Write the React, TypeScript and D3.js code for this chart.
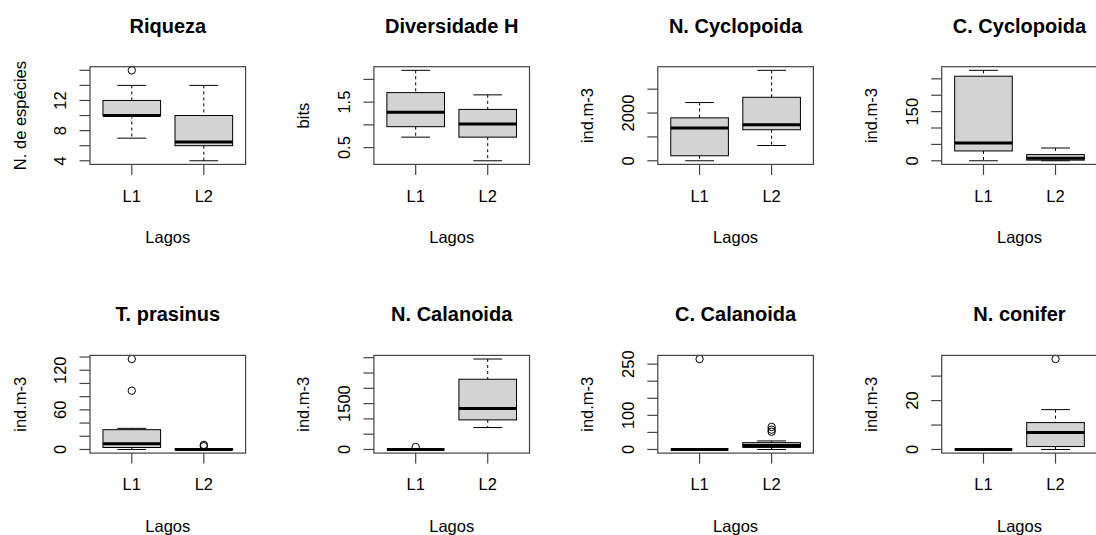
import React from "react";
import * as d3 from "d3";

// Lakes on the x axis of every panel
const lakes = ["L1", "L2"];

const panelTitles = [
  "Riqueza",
  "Diversidade H",
  "N. Cyclopoida",
  "C. Cyclopoida",
  "T. prasinus",
  "N. Calanoida",
  "C. Calanoida",
  "N. conifer",
];

const yTitles = [
  "N. de espécies",
  "bits",
  "ind.m-3",
  "ind.m-3",
  "ind.m-3",
  "ind.m-3",
  "ind.m-3",
  "ind.m-3",
];

// Box summaries per lake: [lower whisker, Q1, median, Q3, upper whisker]
const riquezaStats = [[7, 10, 10, 12, 14], [4, 6, 6.5, 10, 14]];
const riquezaOutliers = [[16], []];

const diversidadeStats = [[0.73, 0.96, 1.28, 1.71, 2.2], [0.21, 0.73, 1.02, 1.34, 1.66]];
const diversidadeOutliers = [[], []];

const nCyclopoidaStats = [[0, 210, 1370, 1800, 2440], [640, 1300, 1510, 2660, 3790]];
const nCyclopoidaOutliers = [[], []];

const cCyclopoidaStats = [[0, 30, 54, 258, 276], [0, 2, 8, 19, 39]];
const cCyclopoidaOutliers = [[], []];

const tPrasinusStats = [[0, 3, 8.6, 30, 32], [0, 0, 0, 1, 1]];
const tPrasinusOutliers = [[89, 137], [5, 7]];

const nCalanoidaStats = [[0, 0, 0, 0, 0], [717, 968, 1337, 2296, 2957]];
const nCalanoidaOutliers = [[80], []];

const cCalanoidaStats = [[0, 0, 0, 0, 0], [0, 6, 12, 20, 25]];
const cCalanoidaOutliers = [[265], [52, 58, 66]];

const nConiferStats = [[0, 0, 0, 0, 0], [0, 1.2, 6.9, 11, 16.3]];
const nConiferOutliers = [[], [37]];

// Axis ticks and the subset that carries a label
const riquezaTicks = [4, 6, 8, 10, 12, 14, 16];
const riquezaTickLabels = [4, 8, 12];
const diversidadeTicks = [0.5, 1, 1.5, 2];
const diversidadeTickLabels = [0.5, 1.5];
const nCyclopoidaTicks = [0, 1000, 2000, 3000];
const nCyclopoidaTickLabels = [0, 2000];
const cCyclopoidaTicks = [0, 50, 100, 150, 200, 250];
const cCyclopoidaTickLabels = [0, 150];
const tPrasinusTicks = [0, 20, 40, 60, 80, 100, 120, 140];
const tPrasinusTickLabels = [0, 60, 120];
const nCalanoidaTicks = [0, 500, 1000, 1500, 2000, 2500, 3000];
const nCalanoidaTickLabels = [0, 1500];
const cCalanoidaTicks = [0, 50, 100, 150, 200, 250];
const cCalanoidaTickLabels = [0, 100, 250];
const nConiferTicks = [0, 10, 20, 30];
const nConiferTickLabels = [0, 20];

const panelStats = [
  riquezaStats, diversidadeStats, nCyclopoidaStats, cCyclopoidaStats,
  tPrasinusStats, nCalanoidaStats, cCalanoidaStats, nConiferStats,
];
const panelOutliers = [
  riquezaOutliers, diversidadeOutliers, nCyclopoidaOutliers, cCyclopoidaOutliers,
  tPrasinusOutliers, nCalanoidaOutliers, cCalanoidaOutliers, nConiferOutliers,
];
const panelTicks = [
  riquezaTicks, diversidadeTicks, nCyclopoidaTicks, cCyclopoidaTicks,
  tPrasinusTicks, nCalanoidaTicks, cCalanoidaTicks, nConiferTicks,
];
const panelTickLabels = [
  riquezaTickLabels, diversidadeTickLabels, nCyclopoidaTickLabels, cCyclopoidaTickLabels,
  tPrasinusTickLabels, nCalanoidaTickLabels, cCalanoidaTickLabels, nConiferTickLabels,
];

const W = 1096;
const H = 535;
const COL_STEP = 283.9;
const ROW_STEP = 288.7;
const PLOT_LEFT = 90;
const PLOT_TOP = 66.7;
const PLOT_W = 155.6;
const PLOT_H = 97.7;
const FONT = "'Liberation Sans', Arial, Helvetica, sans-serif";
const AXIS_FS = 16.5;
const TITLE_FS = 20;

function Panel({ index }: { index: number }) {
  const col = index % 4;
  const row = Math.floor(index / 4);
  const left = PLOT_LEFT + col * COL_STEP;
  const top = PLOT_TOP + row * ROW_STEP;

  const stats = panelStats[index];
  const outliers = panelOutliers[index];
  const allValues = [
    ...stats.flatMap((s) => [s[0], s[4]]),
    ...outliers.flat(),
  ];
  const [lo, hi] = d3.extent(allValues) as [number, number];
  const pad = (hi - lo) * 0.04;

  const x = d3.scaleLinear().domain([0.42, lakes.length + 0.58]).range([0, PLOT_W]);
  const y = d3.scaleLinear().domain([lo - pad, hi + pad]).range([PLOT_H, 0]);

  const boxHalf = x(0.4) - x(0);
  const stapleHalf = x(0.2) - x(0);
  const tickLen = 10.5;

  return (
    <g transform={`translate(${left},${top})`}>
      {/* boxes */}
      {stats.map((s, i) => {
        const cx = x(i + 1);
        const [wl, q1, med, q3, wh] = s;
        return (
          <g key={i}>
            <line x1={cx} x2={cx} y1={y(wh)} y2={y(q3)} stroke="#000" strokeWidth={1} strokeDasharray="3,3" />
            <line x1={cx} x2={cx} y1={y(q1)} y2={y(wl)} stroke="#000" strokeWidth={1} strokeDasharray="3,3" />
            <line x1={cx - stapleHalf} x2={cx + stapleHalf} y1={y(wh)} y2={y(wh)} stroke="#000" strokeWidth={1} />
            <line x1={cx - stapleHalf} x2={cx + stapleHalf} y1={y(wl)} y2={y(wl)} stroke="#000" strokeWidth={1} />
            <rect
              x={cx - boxHalf}
              y={y(q3)}
              width={boxHalf * 2}
              height={Math.max(0, y(q1) - y(q3))}
              fill="#d3d3d3"
              stroke="#000"
              strokeWidth={1}
            />
            <line x1={cx - boxHalf} x2={cx + boxHalf} y1={y(med)} y2={y(med)} stroke="#000" strokeWidth={3} />
            {outliers[i].map((v, k) => (
              <circle key={k} cx={cx} cy={y(v)} r={3.7} fill="none" stroke="#000" strokeWidth={1} />
            ))}
          </g>
        );
      })}

      {/* frame */}
      <rect x={0} y={0} width={PLOT_W} height={PLOT_H} fill="none" stroke="#444" strokeWidth={1.2} />

      {/* y axis */}
      {panelTicks[index].map((t) => (
        <line key={t} x1={-tickLen} x2={0} y1={y(t)} y2={y(t)} stroke="#444" strokeWidth={1.2} />
      ))}
      {panelTickLabels[index].map((t) => (
        <text
          key={t}
          transform={`translate(${-24},${y(t)}) rotate(-90)`}
          textAnchor="middle"
          fontFamily={FONT}
          fontSize={AXIS_FS}
          fill="#000"
        >
          {String(t)}
        </text>
      ))}

      {/* x axis */}
      {lakes.map((lake, i) => (
        <g key={lake}>
          <line x1={x(i + 1)} x2={x(i + 1)} y1={PLOT_H} y2={PLOT_H + tickLen} stroke="#444" strokeWidth={1.2} />
          <text x={x(i + 1)} y={PLOT_H + 37.4} textAnchor="middle" fontFamily={FONT} fontSize={AXIS_FS} fill="#000">
            {lake}
          </text>
        </g>
      ))}

      {/* labels */}
      <text x={PLOT_W / 2} y={PLOT_H + 79} textAnchor="middle" fontFamily={FONT} fontSize={AXIS_FS} fill="#000">
        Lagos
      </text>
      <text
        transform={`translate(${-64.5},${PLOT_H / 2}) rotate(-90)`}
        textAnchor="middle"
        fontFamily={FONT}
        fontSize={AXIS_FS}
        fill="#000"
      >
        {yTitles[index]}
      </text>
      <text x={PLOT_W / 2} y={-34} textAnchor="middle" fontFamily={FONT} fontSize={TITLE_FS} fontWeight="bold" fill="#000">
        {panelTitles[index]}
      </text>
    </g>
  );
}

export default function App() {
  return (
    <svg
      width={W}
      height={H}
      viewBox={`0 0 ${W} ${H}`}
      style={{ position: "fixed", left: 0, top: 0, display: "block", background: "#fff" }}
    >
      <rect width={W} height={H} fill="#fff" />
      {panelTitles.map((_, i) => (
        <Panel key={i} index={i} />
      ))}
    </svg>
  );
}
